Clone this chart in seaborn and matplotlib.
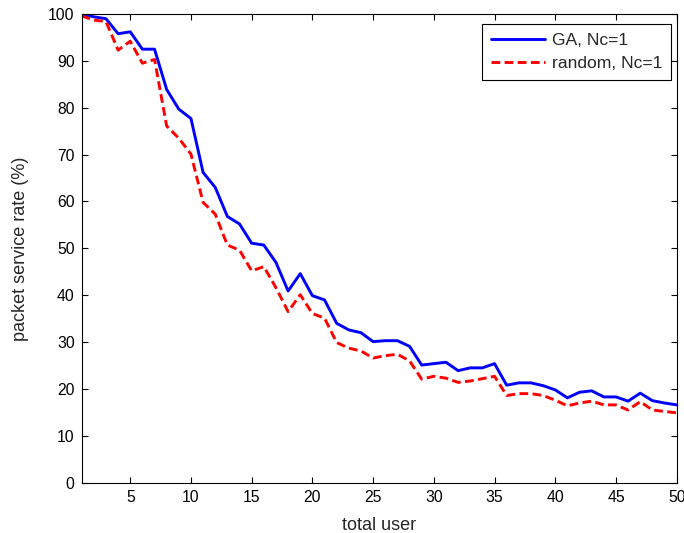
import numpy as np
import pandas as pd
import matplotlib
matplotlib.use("Agg")
import matplotlib.pyplot as plt
import seaborn as sns

users = list(range(1, 51))
ga = [100, 99.4, 99.0, 95.8, 96.2, 92.5, 92.5, 83.9, 79.7, 77.7,
      66.2, 63.0, 56.8, 55.2, 51.1, 50.7, 47.0, 40.9, 44.6, 39.9,
      39.0, 34.0, 32.6, 32.0, 30.1, 30.3, 30.3, 29.1, 25.1, 25.4,
      25.7, 23.9, 24.5, 24.5, 25.4, 20.8, 21.3, 21.3, 20.7, 19.8,
      18.1, 19.3, 19.6, 18.3, 18.3, 17.4, 19.1, 17.5, 17.0, 16.6]
rnd = [99.6, 98.7, 98.4, 92.3, 94.2, 89.5, 90.3, 76.1, 73.5, 70.1,
       59.8, 57.3, 50.7, 49.6, 45.2, 46.1, 41.6, 36.5, 40.1, 36.1,
       35.1, 29.9, 28.7, 28.1, 26.6, 27.1, 27.4, 26.0, 22.1, 22.7,
       22.3, 21.4, 21.7, 22.2, 22.7, 18.6, 19.0, 19.0, 18.6, 17.6,
       16.4, 17.0, 17.4, 16.6, 16.6, 15.5, 17.3, 15.5, 15.2, 14.9]
labels = ["GA, Nc=1", "random, Nc=1"]
xticks = [5, 10, 15, 20, 25, 30, 35, 40, 45, 50]
yticks = [0, 10, 20, 30, 40, 50, 60, 70, 80, 90, 100]

df = pd.DataFrame({
    "user": users * 2,
    "rate": ga + rnd,
    "method": [labels[0]] * len(users) + [labels[1]] * len(users),
})

sns.set_theme(style="white")
plt.rcParams["font.family"] = ["Liberation Sans", "DejaVu Sans"]
plt.rcParams["xtick.direction"] = "in"
plt.rcParams["ytick.direction"] = "in"

fig = plt.figure(figsize=(6.84, 5.33), dpi=100)
ax = fig.add_axes([0.1194, 0.0944, 0.8699, 0.8793])

sns.lineplot(data=df, x="user", y="rate", hue="method", style="method",
             palette={labels[0]: "#0000ff", labels[1]: "#ff0000"},
             dashes={labels[0]: "", labels[1]: (3, 1.5)},
             linewidth=2.1, ax=ax, legend=True)

ax.set_xlim(1, 50)
ax.set_ylim(0, 100)
ax.set_xticks(xticks)
ax.set_yticks(yticks)
ax.tick_params(axis="both", which="both", direction="in", length=4,
               width=0.8, colors="black", labelsize=11.3,
               top=True, right=True, bottom=True, left=True, pad=5)
for s in ax.spines.values():
    s.set_color("black")
    s.set_linewidth(0.8)
ax.set_xlabel("total user", fontsize=13, labelpad=9)
ax.set_ylabel("packet service rate (%)", fontsize=13, labelpad=14)

leg = ax.legend(loc="upper right", bbox_to_anchor=(0.9904, 0.9787),
                fontsize=12.6, frameon=True, fancybox=False,
                edgecolor="black", framealpha=1, borderaxespad=0,
                handlelength=3.1, handletextpad=0.4, borderpad=0.5,
                labelspacing=0.45)
leg.get_frame().set_linewidth(0.8)

fig.savefig("out.png", dpi=100)
